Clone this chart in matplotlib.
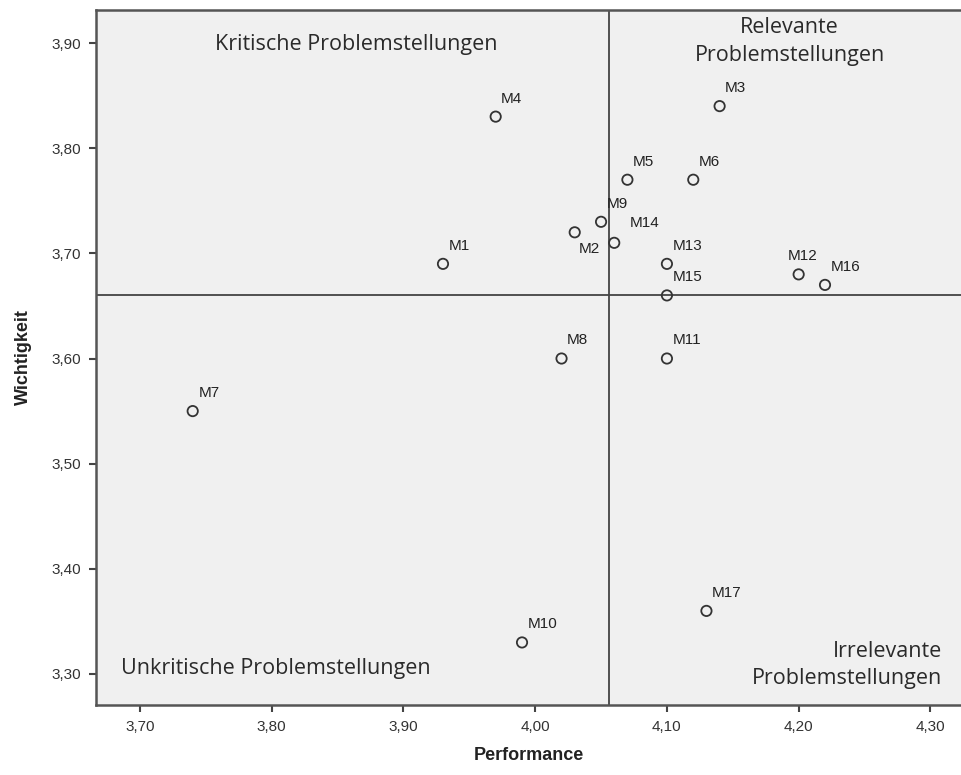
import matplotlib
matplotlib.use("Agg")
import matplotlib.pyplot as plt
from matplotlib.ticker import FuncFormatter

# Daten: Performance (x) und Wichtigkeit (y)
labels = ["M1", "M2", "M3", "M4", "M5", "M6", "M7", "M8", "M9",
          "M10", "M11", "M12", "M13", "M14", "M15", "M16", "M17"]
performance = [3.93, 4.03, 4.14, 3.97, 4.07, 4.12, 3.74, 4.02, 4.05,
               3.99, 4.10, 4.20, 4.10, 4.06, 4.10, 4.22, 4.13]
wichtigkeit = [3.69, 3.72, 3.84, 3.83, 3.77, 3.77, 3.55, 3.60, 3.73,
               3.33, 3.60, 3.68, 3.69, 3.71, 3.66, 3.67, 3.36]

mean_perf = 4.056
mean_wicht = 3.66

xticks = [3.70, 3.80, 3.90, 4.00, 4.10, 4.20, 4.30]
yticks = [3.30, 3.40, 3.50, 3.60, 3.70, 3.80, 3.90]

# label offsets in points (default upper right)
offsets = {"M2": (3, -12), "M14": (11, 14), "M12": (-8, 13)}

fig = plt.figure(figsize=(9.62, 7.75), dpi=100)
ax = fig.add_axes([0.0998, 0.0903, 0.9002, 0.8968])
ax.set_facecolor("#f0f0f0")

ax.axvline(mean_perf, color="#444444", linewidth=1.3, zorder=1)
ax.axhline(mean_wicht, color="#444444", linewidth=1.3, zorder=1)

ax.scatter(performance, wichtigkeit, s=55, facecolors="none",
           edgecolors="#333333", linewidths=1.3, zorder=3)

for lab, x, y in zip(labels, performance, wichtigkeit):
    dx, dy = offsets.get(lab, (4, 13))
    ax.annotate(lab, (x, y), xytext=(dx, dy), textcoords="offset points",
                ha="left", va="center", fontsize=11,
                family="Liberation Sans", color="#222222", zorder=4)

qfont = dict(family="Open Sans", fontsize=15.5, color="#2a2a2a",
             transform=ax.transAxes)
ax.text(0.301, 0.950, "Kritische Problemstellungen", ha="center", va="center", **qfont)
ax.text(0.801, 0.955, "Relevante\nProblemstellungen", ha="center", va="center",
        linespacing=1.45, **qfont)
ax.text(0.029, 0.052, "Unkritische Problemstellungen", ha="left", va="center", **qfont)
ax.text(0.977, 0.058, "Irrelevante\nProblemstellungen", ha="right", va="center",
        linespacing=1.4, **qfont)

ax.set_xlim(3.6666, 4.324)
ax.set_ylim(3.2705, 3.9314)
ax.set_xticks(xticks)
ax.set_yticks(yticks)
fmt = FuncFormatter(lambda v, p: f"{v:.2f}".replace(".", ","))
ax.xaxis.set_major_formatter(fmt)
ax.yaxis.set_major_formatter(fmt)
ax.tick_params(direction="out", length=5, width=1.5, color="#444444",
               labelsize=11, labelcolor="#333333", pad=6)
for t in ax.get_xticklabels() + ax.get_yticklabels():
    t.set_family("Liberation Sans")

for side in ["left", "bottom", "top"]:
    ax.spines[side].set_color("#555555")
    ax.spines[side].set_linewidth(1.8)
ax.spines["right"].set_visible(False)

ax.set_xlabel("Performance", fontsize=13, fontweight="bold",
              family="Liberation Sans", color="#222222", labelpad=9)
ax.set_ylabel("Wichtigkeit", fontsize=13, fontweight="bold",
              family="Liberation Sans", color="#222222", labelpad=14)

fig.savefig("out.png", dpi=100)
